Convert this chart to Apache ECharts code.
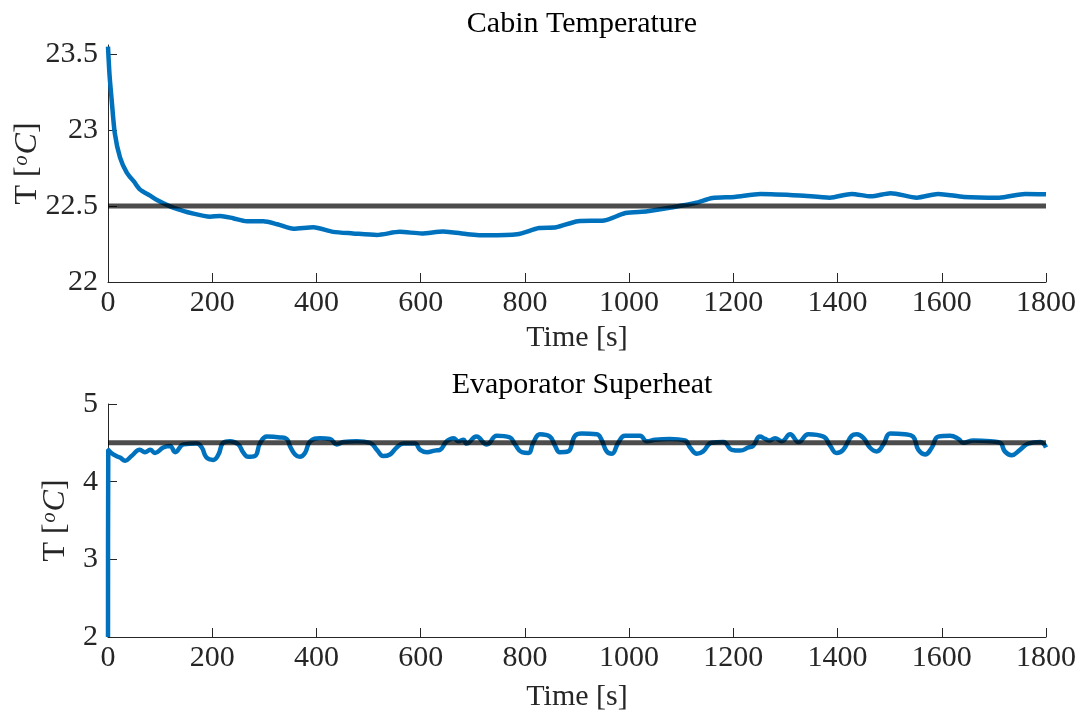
<!DOCTYPE html>
<html>
<head>
<meta charset="utf-8">
<style>
  html, body { margin: 0; padding: 0; background: #ffffff; }
  #chart { width: 1080px; height: 717px; }
</style>
<script src="https://cdn.jsdelivr.net/npm/echarts@6/dist/echarts.min.js"></script>
</head>
<body>
<div id="chart"></div>
<script>
// ---------------- data ----------------
const cabinTitle = 'Cabin Temperature';
const superheatTitle = 'Evaporator Superheat';
const xAxisTitle = 'Time [s]';
const xTicks = [0, 200, 400, 600, 800, 1000, 1200, 1400, 1600, 1800];
const cabinYTicks = [22, 22.5, 23, 23.5];
const superheatYTicks = [2, 3, 4, 5];

const cabinTime = [0, 3, 7, 13, 23, 36, 50, 61, 80, 94, 125, 164, 196, 215, 240, 266, 298, 325, 356, 394, 432, 470, 516, 560, 602, 643, 690, 727, 785, 827, 860, 902, 952, 993, 1035, 1080, 1127, 1160, 1202, 1252, 1327, 1385, 1427, 1464, 1502, 1552, 1593, 1643, 1710, 1760, 1800];
const cabinTemp = [23.55, 23.36, 23.20, 22.98, 22.82, 22.72, 22.66, 22.61, 22.57, 22.54, 22.49, 22.45, 22.43, 22.435, 22.42, 22.40, 22.40, 22.38, 22.35, 22.36, 22.33, 22.32, 22.31, 22.33, 22.32, 22.333, 22.315, 22.307, 22.314, 22.355, 22.36, 22.40, 22.405, 22.454, 22.465, 22.49, 22.52, 22.553, 22.56, 22.58, 22.57, 22.555, 22.58, 22.564, 22.585, 22.555, 22.58, 22.56, 22.555, 22.58, 22.577];
const cabinSetpoint = 22.5;

const superheatTime = [0, 0.5, 10, 23, 33, 45, 61, 71, 81, 90, 106, 119, 129, 145, 170, 180, 189, 202, 212, 221, 234, 250, 260, 269, 282, 292, 305, 330, 343, 349, 359, 368, 378, 388, 407, 426, 439, 452, 477, 503, 516, 528, 541, 554, 567, 589, 599, 612, 627, 637, 650, 663, 672, 682, 688, 707, 727, 746, 771, 781, 794, 807, 816, 829, 848, 858, 867, 883, 896, 909, 938, 947, 957, 967, 979, 992, 1021, 1034, 1050, 1078, 1107, 1117, 1130, 1142, 1158, 1181, 1197, 1213, 1229, 1238, 1251, 1261, 1270, 1280, 1293, 1309, 1325, 1344, 1373, 1386, 1398, 1411, 1427, 1437, 1450, 1462, 1475, 1488, 1501, 1529, 1545, 1555, 1568, 1581, 1593, 1616, 1632, 1641, 1661, 1693, 1712, 1721, 1734, 1750, 1766, 1789, 1800];
const superheatVals = [2.0, 4.41, 4.35, 4.31, 4.27, 4.33, 4.41, 4.38, 4.41, 4.37, 4.44, 4.46, 4.38, 4.48, 4.49, 4.44, 4.31, 4.28, 4.35, 4.50, 4.52, 4.48, 4.37, 4.32, 4.33, 4.50, 4.58, 4.57, 4.55, 4.46, 4.35, 4.32, 4.37, 4.52, 4.56, 4.55, 4.48, 4.51, 4.52, 4.50, 4.41, 4.33, 4.35, 4.44, 4.49, 4.49, 4.41, 4.38, 4.40, 4.41, 4.52, 4.56, 4.52, 4.54, 4.49, 4.58, 4.48, 4.59, 4.57, 4.48, 4.38, 4.37, 4.50, 4.61, 4.58, 4.46, 4.38, 4.39, 4.59, 4.62, 4.61, 4.54, 4.39, 4.36, 4.50, 4.59, 4.59, 4.52, 4.54, 4.55, 4.53, 4.44, 4.36, 4.39, 4.50, 4.51, 4.41, 4.40, 4.44, 4.46, 4.58, 4.55, 4.53, 4.56, 4.52, 4.61, 4.51, 4.61, 4.58, 4.46, 4.37, 4.41, 4.59, 4.61, 4.56, 4.44, 4.39, 4.48, 4.62, 4.61, 4.58, 4.41, 4.35, 4.44, 4.58, 4.59, 4.55, 4.50, 4.53, 4.52, 4.50, 4.39, 4.34, 4.41, 4.49, 4.51, 4.44];
const superheatSetpoint = 4.5;

// ---------------- chart ----------------
const FONT = '"Liberation Serif", "DejaVu Serif", serif';
const INK = '#262626';
const BLUE = '#0072BD';
const zip = (xs, ys) => xs.map((x, i) => [x, ys[i]]);
const plain = v => String(v);

function yName(gap) {
  return {
    name: '{n|T [}{s|o}{i|C}{n|]}',
    nameLocation: 'middle',
    nameRotate: 90,
    nameGap: gap,
    nameMoveOverlap: false,
    nameTextStyle: {
      rich: {
        n: { fontFamily: FONT, fontSize: 32, color: INK, lineHeight: 32 },
        s: { fontFamily: FONT, fontSize: 20, fontStyle: 'italic', color: INK, verticalAlign: 'top', lineHeight: 32, padding: [0, 1, 12, 1] },
        i: { fontFamily: FONT, fontSize: 32, fontStyle: 'italic', color: INK, lineHeight: 32 }
      }
    }
  };
}

function xAxisCfg(gridIndex, gap) {
  return {
    type: 'value', gridIndex, min: 0, max: 1800, interval: 200,
    name: xAxisTitle, nameLocation: 'middle', nameGap: gap,
    nameTextStyle: { fontFamily: FONT, fontSize: 30, color: INK },
    axisLine: { show: true, onZero: false, lineStyle: { color: INK, width: 1 } },
    axisTick: { show: true, inside: true, length: 9, lineStyle: { color: INK }, customValues: xTicks },
    axisLabel: { fontFamily: FONT, fontSize: 30, color: INK, margin: 6, customValues: xTicks, formatter: plain, hideOverlap: false },
    splitLine: { show: false }
  };
}

function yAxisCfg(gridIndex, min, max, ticks, gap) {
  return Object.assign({
    type: 'value', gridIndex, min, max,
    axisLine: { show: true, onZero: false, lineStyle: { color: INK, width: 1 } },
    axisTick: { show: true, inside: true, length: 9, lineStyle: { color: INK }, customValues: ticks },
    axisLabel: { fontFamily: FONT, fontSize: 30, color: INK, margin: 10, customValues: ticks, formatter: plain },
    splitLine: { show: false }
  }, yName(gap));
}

const chart = echarts.init(document.getElementById('chart'), null, { renderer: 'canvas' });
chart.setOption({
  backgroundColor: '#ffffff',
  animation: false,
  title: [
    { text: cabinTitle, left: 577, top: 4, textAlign: 'center',
      textStyle: { fontFamily: FONT, fontSize: 30, fontWeight: 'normal', color: '#000' } },
    { text: superheatTitle, left: 577, top: 365, textAlign: 'center',
      textStyle: { fontFamily: FONT, fontSize: 30, fontWeight: 'normal', color: '#000' } }
  ],
  grid: [
    { left: 108, right: 34, top: 45, height: 237, containLabel: false, outerBoundsMode: 'none' },
    { left: 108, right: 34, top: 404, height: 233, containLabel: false, outerBoundsMode: 'none' }
  ],
  xAxis: [xAxisCfg(0, 41), xAxisCfg(1, 45)],
  yAxis: [yAxisCfg(0, 22, 23.56, cabinYTicks, 64), yAxisCfg(1, 2, 5, superheatYTicks, 36)],
  series: [
    { type: 'line', xAxisIndex: 0, yAxisIndex: 0, data: zip(cabinTime, cabinTemp),
      showSymbol: false, smooth: 0.25,
      lineStyle: { color: BLUE, width: 4.5 }, z: 2 },
    { type: 'line', xAxisIndex: 0, yAxisIndex: 0,
      data: [[xTicks[0], cabinSetpoint], [xTicks[xTicks.length - 1], cabinSetpoint]],
      showSymbol: false, lineStyle: { color: '#000', width: 5, opacity: 0.7 }, z: 3 },
    { type: 'line', xAxisIndex: 1, yAxisIndex: 1, data: zip(superheatTime, superheatVals),
      showSymbol: false, smooth: 0.45,
      lineStyle: { color: BLUE, width: 4.5 }, z: 2 },
    { type: 'line', xAxisIndex: 1, yAxisIndex: 1,
      data: [[xTicks[0], superheatSetpoint], [xTicks[xTicks.length - 1], superheatSetpoint]],
      showSymbol: false, lineStyle: { color: '#000', width: 5, opacity: 0.7 }, z: 3 }
  ]
});
</script>
</body>
</html>
